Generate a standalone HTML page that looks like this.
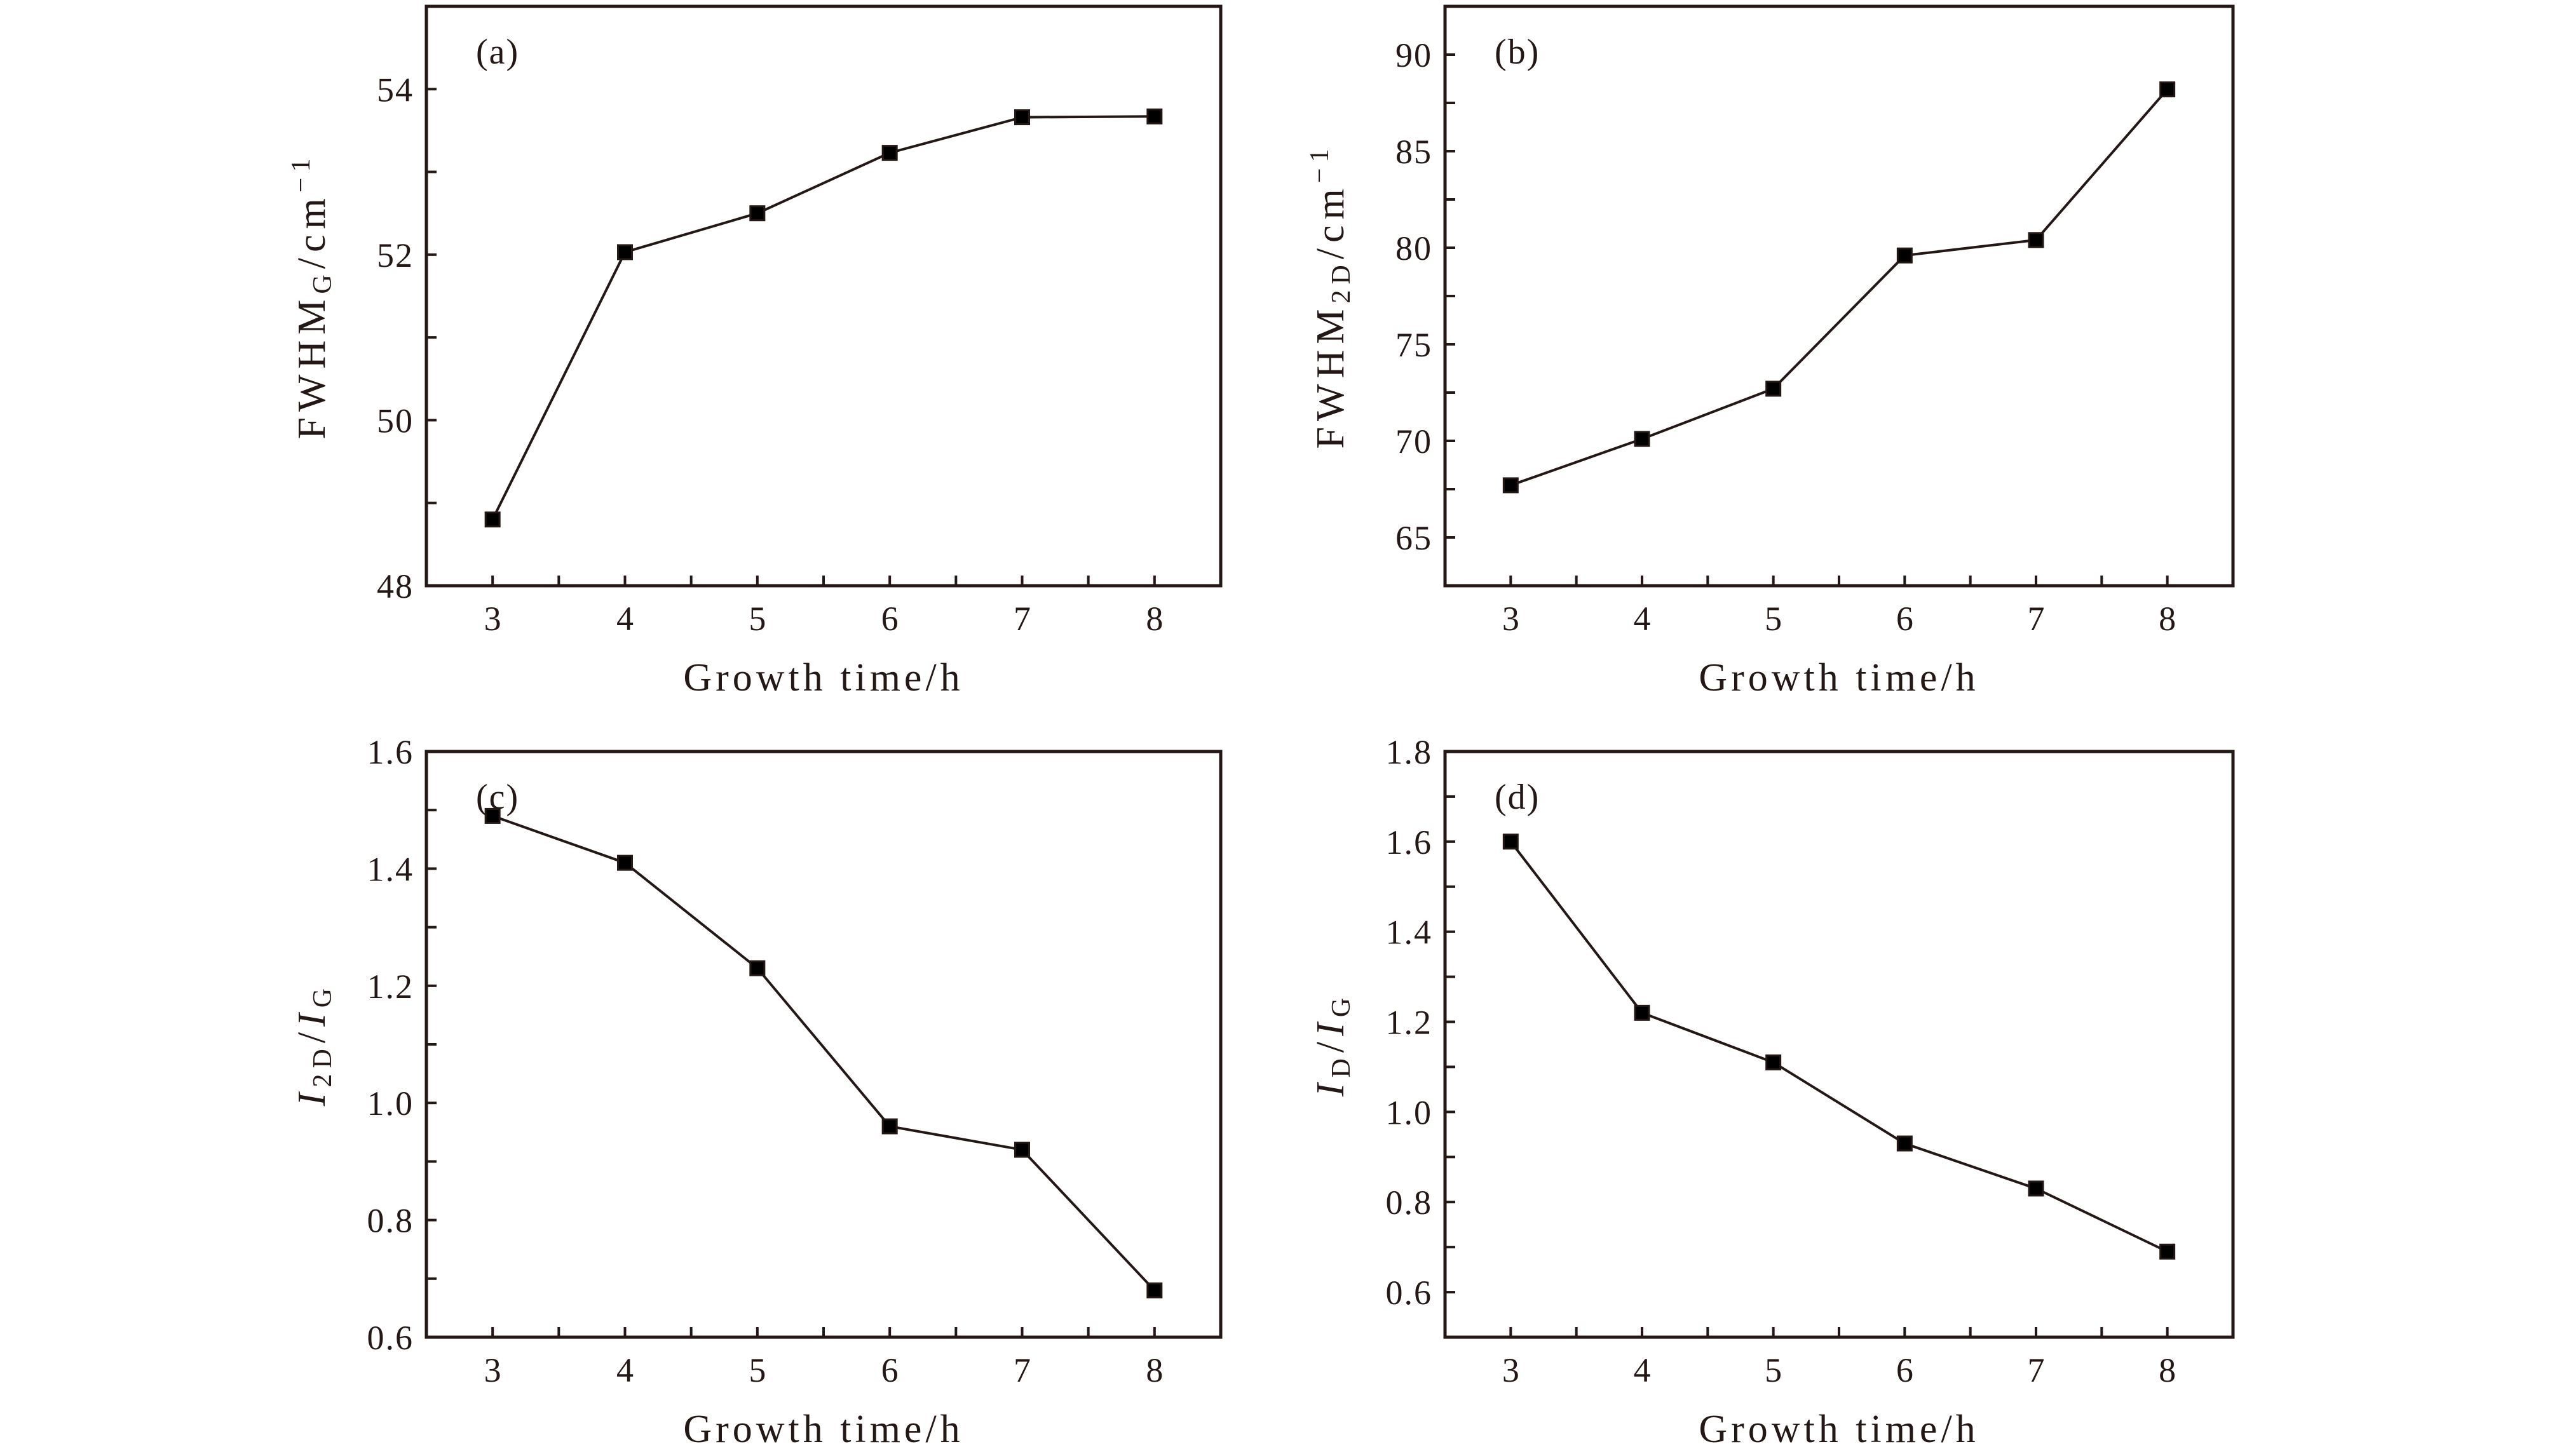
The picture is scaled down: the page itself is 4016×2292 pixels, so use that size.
<!DOCTYPE html>
<html><head><meta charset="utf-8"><style>
html,body{margin:0;padding:0;background:#fff;}
svg{display:block;font-family:"Liberation Serif",serif;}
</style></head><body>
<svg id="fig" width="4016" height="2292" viewBox="0 0 4016 2292" xmlns="http://www.w3.org/2000/svg">
<rect width="4016" height="2292" fill="#fff"/>
</svg>
<script>
const categories = [3, 4, 5, 6, 7, 8];
const seriesA = [48.8, 52.03, 52.5, 53.23, 53.66, 53.67];
const seriesB = [67.7, 70.1, 72.7, 79.6, 80.4, 88.2];
const seriesC = [1.49, 1.41, 1.23, 0.96, 0.92, 0.68];
const seriesD = [1.60, 1.22, 1.11, 0.93, 0.83, 0.69];
const ticksA = [48, 50, 52, 54];
const ticksB = [65, 70, 75, 80, 85, 90];
const ticksC = [0.6, 0.8, 1.0, 1.2, 1.4, 1.6];
const ticksD = [0.6, 0.8, 1.0, 1.2, 1.4, 1.6, 1.8];
const labelsA = ["48", "50", "52", "54"];
const labelsB = ["65", "70", "75", "80", "85", "90"];
const labelsC = ["0.6", "0.8", "1.0", "1.2", "1.4", "1.6"];
const labelsD = ["0.6", "0.8", "1.0", "1.2", "1.4", "1.6", "1.8"];

const NS = "http://www.w3.org/2000/svg";
const svg = document.getElementById("fig");
function mk(tag, attrs, parent) {
  const e = document.createElementNS(NS, tag);
  for (const k in attrs) e.setAttribute(k, attrs[k]);
  (parent || svg).appendChild(e);
  return e;
}

function panel(id, box, yMin, yMax, yMinorStep, ticks, labels, data, tag, ylabelFn) {
  const g = mk("g", {});
  
  
  const [L, T, R, B] = box;
  const xMin = 2.5, xMax = 8.5;
  const sx = v => L + (v - xMin) / (xMax - xMin) * (R - L);
  const sy = v => B - (v - yMin) / (yMax - yMin) * (B - T);
  const tl = 16;
  for (let v = Math.ceil(yMin / yMinorStep - 1e-6) * yMinorStep; v <= yMax + 1e-6; v += yMinorStep) {
    const y = sy(v);
    const t = mk("line", {x1: L, x2: L + tl, y1: y, y2: y, stroke: "#231815", "stroke-width": 4}, g);
    
    
  }
  ticks.forEach((v, i) => {
    const t = mk("text", {x: L - 20, y: sy(v) + 19, "text-anchor": "end", "font-size": 54, "letter-spacing": 2, fill: "#231815"}, g);
    t.textContent = labels[i];
    
    
  });
  for (let v = 3; v <= 8.001; v += 0.5) {
    const x = sx(v);
    const t = mk("line", {x1: x, x2: x, y1: B, y2: B - tl, stroke: "#231815", "stroke-width": 4}, g);
    
    
  }
  categories.forEach(c => {
    const t = mk("text", {x: sx(c), y: B + 70, "text-anchor": "middle", "font-size": 54, fill: "#231815"}, g);
    t.textContent = String(c);
    
    
  });
  const fr = mk("rect", {x: L, y: T, width: R - L, height: B - T, fill: "none", stroke: "#231815", "stroke-width": 5}, g);
  
  
  const pts = categories.map((c, i) => sx(c) + "," + sy(data[i])).join(" ");
  const pl = mk("polyline", {points: pts, fill: "none", stroke: "#231815", "stroke-width": 4}, g);
  
  
  categories.forEach((c, i) => {
    const m = mk("rect", {x: sx(c) - 11, y: sy(data[i]) - 11, width: 22, height: 22, fill: "#000", stroke: "#231815", "stroke-width": 3}, g);
    
    
  });
  const pt = mk("text", {x: L + 78, y: T + 90, "font-size": 56, "letter-spacing": 2, fill: "#231815"}, g);
  pt.textContent = tag;
  
  
  const xl = mk("text", {x: (L + R) / 2, y: B + 165, "text-anchor": "middle", "font-size": 62, "letter-spacing": 6, fill: "#231815"}, g);
  xl.textContent = "Growth time/h";
  
  
  const yl = mk("text", {x: 0, y: 0, "text-anchor": "middle", "font-size": 62, "letter-spacing": 9, fill: "#231815",
    transform: "translate(" + (L - 160) + "," + ((T + B) / 2) + ") rotate(-90)"}, g);
  
  
  ylabelFn(yl);
}
function ts(parent, txt, attrs) { const t = mk("tspan", attrs || {}, parent); t.textContent = txt; return t; }

panel("a", [671, 10, 1921, 922], 48, 55, 1, ticksA, labelsA, seriesA, "(a)", e => {
  ts(e, "FWHM"); ts(e, "G", {"font-size": 42, dy: 10}); ts(e, "/cm", {dy: -10}); ts(e, "−1", {"font-size": 42, dy: -24});
});
panel("b", [2274, 10, 3514, 922], 62.5, 92.5, 2.5, ticksB, labelsB, seriesB, "(b)", e => {
  ts(e, "FWHM"); ts(e, "2D", {"font-size": 42, dy: 10}); ts(e, "/cm", {dy: -10}); ts(e, "−1", {"font-size": 42, dy: -24});
});
panel("c", [671, 1183, 1921, 2105], 0.6, 1.6, 0.1, ticksC, labelsC, seriesC, "(c)", e => {
  ts(e, "I", {"font-style": "italic"}); ts(e, "2D", {"font-size": 42, dy: 10}); ts(e, "/", {dy: -10});
  ts(e, "I", {"font-style": "italic"}); ts(e, "G", {"font-size": 42, dy: 10});
});
panel("d", [2274, 1183, 3514, 2105], 0.5, 1.8, 0.1, ticksD, labelsD, seriesD, "(d)", e => {
  ts(e, "I", {"font-style": "italic"}); ts(e, "D", {"font-size": 42, dy: 10}); ts(e, "/", {dy: -10});
  ts(e, "I", {"font-style": "italic"}); ts(e, "G", {"font-size": 42, dy: 10});
});
</script>
</body></html>
